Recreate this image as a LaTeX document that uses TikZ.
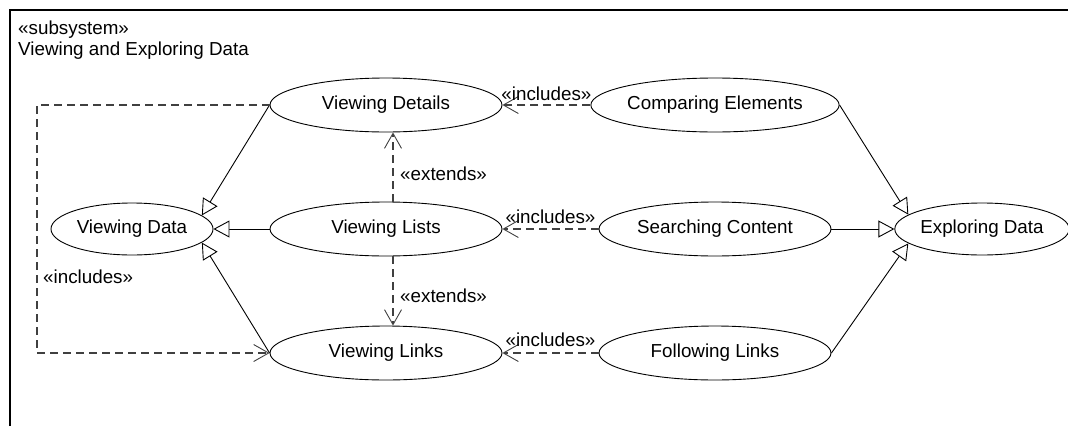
\documentclass[tikz,border=0pt]{standalone}
\usepackage{fontspec}
\setmainfont{Liberation Sans}
\usetikzlibrary{arrows.meta,shapes.geometric}

\begin{document}
\begin{tikzpicture}[x=1pt,y=-1pt,
  every node/.style={font=\fontsize{18.8}{20.5}\selectfont},
  usecase/.style={draw=black, line width=0.9pt, ellipse, inner sep=0pt,
    minimum width=232pt, minimum height=54pt},
  smallcase/.style={usecase, minimum width=162pt, minimum height=52pt},
  gen/.style={draw=black, line width=0.9pt,
    -{Triangle[open, length=16pt, width=17pt, fill=white]}},
  dep/.style={draw=black!75, line width=1.1pt, dash pattern=on 8pt off 5pt,
    -{Straight Barb[length=15pt, width=17pt, line width=0.9pt]}},
  lbl/.style={inner sep=0pt, anchor=base west}
]
\useasboundingbox (0,0) rectangle (1068,426);

% subsystem frame (open to the right and bottom)
\draw[line width=1.3pt] (10,426) -- (10,10) -- (1068,10);
\node[lbl] (stereo) at (18,34.5) {«subsystem»};
\node[lbl] (title) at (18,55) {Viewing and Exploring Data};

% use cases
\node[usecase] (vdet) at (386,105) {Viewing Details};
\node[usecase] (comp) at (715,105) {Comparing Elements};
\node[smallcase] (vdata) at (132,229) {Viewing Data};
\node[usecase] (vlists) at (386,229) {Viewing Lists};
\node[usecase] (search) at (715,229) {Searching Content};
\node[smallcase] (expl) at (982,229) {Exploring Data};
\node[usecase] (vlinks) at (386,353) {Viewing Links};
\node[usecase] (follow) at (715,353) {Following Links};

% generalisations
\draw[gen] (vdet.west) -- (vdata.11);
\draw[gen] (vlists.west) -- (vdata.east);
\draw[gen] (vlinks.west) -- (vdata.-11);
\draw[gen] (comp.east) -- (expl.169);
\draw[gen] (search.east) -- (expl.west);
\draw[gen] (follow.east) -- (expl.191);

% includes
\draw[dep] (comp.west) -- (vdet.east)
  node[midway, above=4pt, inner sep=0pt] (inc1) {«includes»};
\draw[dep] (search.west) -- (vlists.east)
  node[midway, above=5pt, inner sep=0pt] (inc2) {«includes»};
\draw[dep] (follow.west) -- (vlinks.east)
  node[midway, above=6pt, inner sep=0pt] (inc3) {«includes»};

\coordinate (lane) at (37,0);
\draw[dep] (vdet.west) -- (vdet.west -| lane) -- (vlinks.west -| lane) -- (vlinks.west);
\node[lbl] (inc4) at (43,283) {«includes»};

% extends
\draw[dep] ([xshift=7pt]vlists.north) -- ([xshift=7pt]vdet.south);
\node[lbl] (ext1) at (400,180) {«extends»};
\draw[dep] ([xshift=7pt]vlists.south) -- ([xshift=7pt]vlinks.north);
\node[lbl] (ext2) at (400,302) {«extends»};
\end{tikzpicture}
\end{document}
